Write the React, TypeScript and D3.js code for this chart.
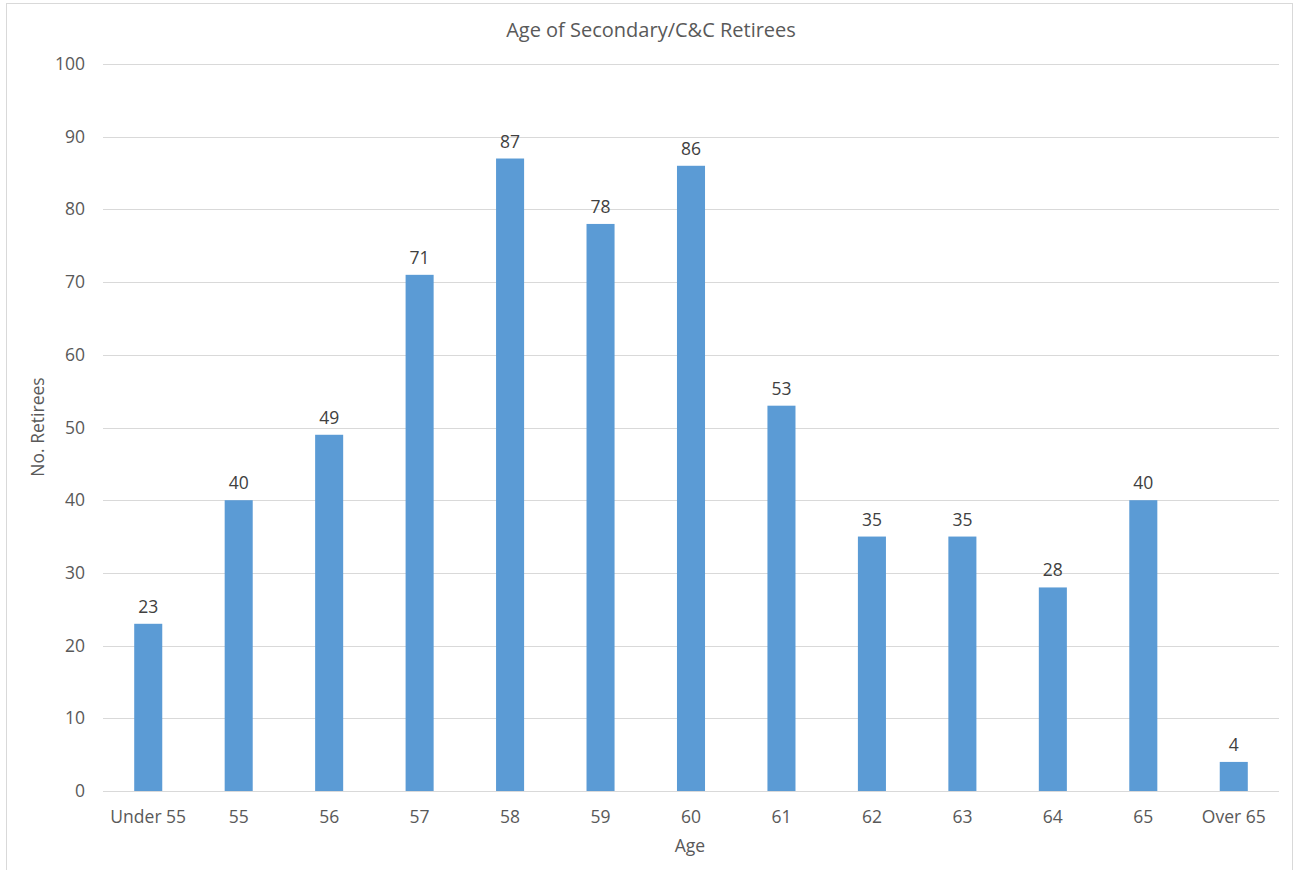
import React from "react";
import * as d3 from "d3";

const categories = ["Under 55", "55", "56", "57", "58", "59", "60", "61", "62", "63", "64", "65", "Over 65"];
const values = [23, 40, 49, 71, 87, 78, 86, 53, 35, 35, 28, 40, 4];
const yTicks = [0, 10, 20, 30, 40, 50, 60, 70, 80, 90, 100];
const title = "Age of Secondary/C&C Retirees";
const xTitle = "Age";
const yTitle = "No. Retirees";

const W = 1295;
const H = 870;
const FONT = "'Open Sans', 'Noto Sans', sans-serif";
const TXT = "#595959";

export default function App() {
  const left = 103, right = 1279, top = 64, bottom = 791;
  const x = d3.scaleBand<string>().domain(categories).range([left, right]).paddingInner(0.69).paddingOuter(0.345);
  const y = d3.scaleLinear().domain([0, 100]).range([bottom, top]);
  return (
    <svg width={W} height={H} style={{ position: "absolute", left: 0, top: 0, display: "block" }}>
      <rect x={0} y={0} width={W} height={H} fill="#fff" />
      <rect x={6.5} y={3.5} width={1286} height={870} fill="#fff" stroke="#d9d9d9" strokeWidth={1} />
      <text x={651} y={37} textAnchor="middle" fontFamily={FONT} fontSize={20} fill={TXT}>{title}</text>
      {yTicks.map((t) => (
        <g key={t}>
          <line x1={left} x2={right} y1={Math.round(y(t)) + 0.5} y2={Math.round(y(t)) + 0.5} stroke="#d9d9d9" strokeWidth={1} />
          <text x={85} y={y(t) + 6} textAnchor="end" fontFamily={FONT} fontSize={17.5} fill={TXT}>{t}</text>
        </g>
      ))}
      {categories.map((c, i) => {
        const bx = x(c)!;
        const bw = x.bandwidth();
        const v = values[i];
        return (
          <g key={c}>
            <rect x={bx} y={y(v)} width={bw} height={y(0) - y(v)} fill="#5b9bd5" />
            <text x={bx + bw / 2} y={y(v) - 11} textAnchor="middle" fontFamily={FONT} fontSize={17.5} fill="#404040">{v}</text>
            <text x={bx + bw / 2} y={823} textAnchor="middle" fontFamily={FONT} fontSize={17.5} fill={TXT}>{c}</text>
          </g>
        );
      })}
      <text x={690} y={852} textAnchor="middle" fontFamily={FONT} fontSize={17.5} fill={TXT}>{xTitle}</text>
      <text transform={`translate(44,427) rotate(-90)`} textAnchor="middle" fontFamily={FONT} fontSize={17.5} fill={TXT}>{yTitle}</text>
    </svg>
  );
}
